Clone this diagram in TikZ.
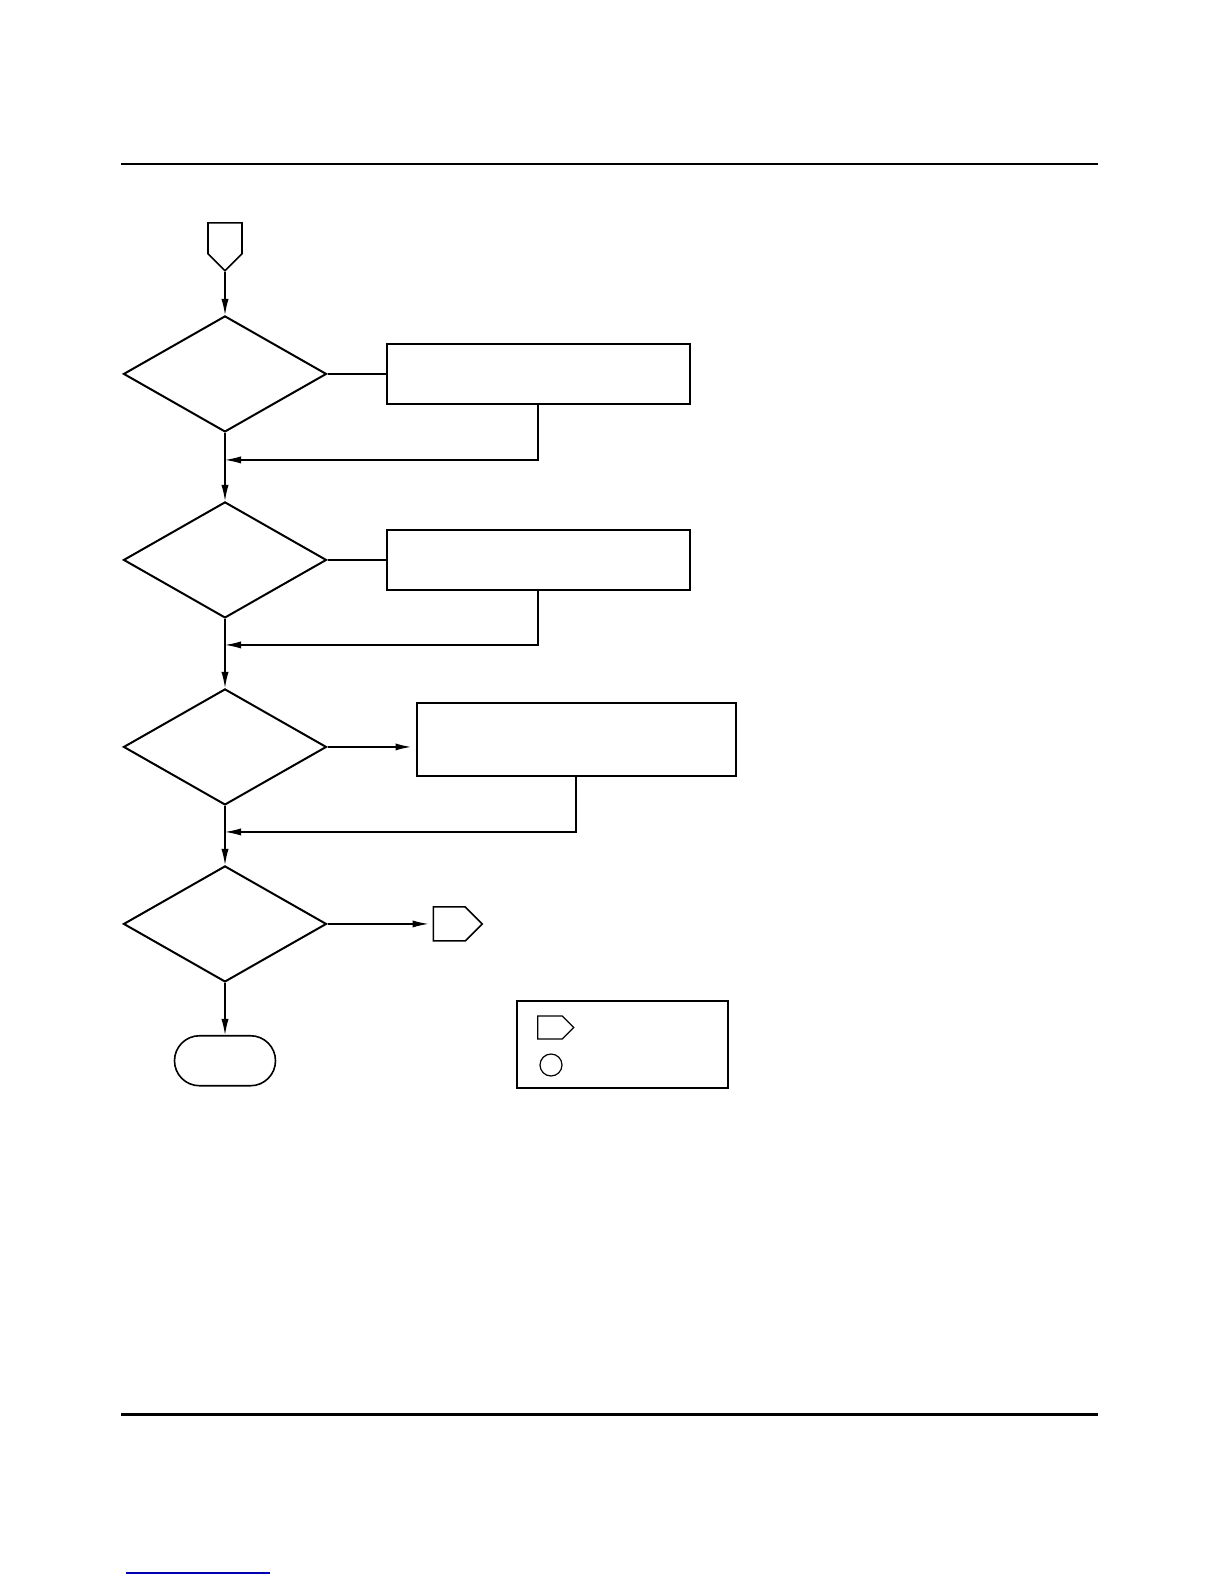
\documentclass[tikz,border=0pt]{standalone}
\usepackage{xcolor}
\usepackage{tikz}
\usetikzlibrary{arrows.meta,positioning,shapes.geometric,shapes.symbols}

\begin{document}
\begin{tikzpicture}[
    x=0.5pt, y=-0.5pt,
    >=Latex,
    node distance=35pt and 29pt,
    decision/.style={draw, diamond, line width=1pt, inner sep=0pt, minimum width=101.5pt, minimum height=58pt},
    block/.style={draw, rectangle, line width=1pt, inner sep=0pt, minimum width=151.5pt, minimum height=30pt},
    offpage/.style={draw, signal, line width=0.8pt, inner sep=0pt},
    terminal/.style={draw, rectangle, rounded corners=12.5pt, line width=0.8pt, inner sep=0pt, minimum width=50.5pt, minimum height=25pt},
    line/.style={-{Latex[length=8pt,width=3.6pt]}, line width=0.6pt},
    rule/.style={line width=1pt}
]
\useasboundingbox (0,0) rectangle (1224,1584);

% Page rules.
\draw[rule] (121,163.6) -- (1098,163.6);
\draw[rule, line width=1.5pt] (121,1414) -- (1098,1414);
\draw[blue!70!black, line width=0.6pt] (126,1573) -- (270,1573);

% Main decision chain.
\node[offpage, signal to=south, minimum width=17pt, minimum height=15.5pt, anchor=north] (start) at (225,222) {};
\node[decision, below=21.5pt of start] (dia1) {};
\node[block, right=29pt of dia1] (box1) {};
\node[decision, below=34pt of dia1] (dia2) {};
\node[block, right=29pt of dia2] (box2) {};
\node[decision, below=34.5pt of dia2] (dia3) {};
\node[block, minimum width=159.5pt, minimum height=36.5pt, right=44pt of dia3, yshift=3.5pt] (box3) {};
\node[decision, below=29.5pt of dia3] (dia4) {};
\node[offpage, signal to=east, minimum width=24.5pt, minimum height=17pt, right=52.5pt of dia4] (exit) {};
\node[terminal, below=26pt of dia4] (stop) {};

% Return points on the main line.
\coordinate[below=13.5pt of dia1.south] (j1);
\coordinate[below=13pt of dia2.south] (j2);
\coordinate[below=13pt of dia3.south] (j3);

% Legend.
\node[draw, line width=0.6pt, inner sep=0pt, minimum width=105.5pt, minimum height=43.5pt] (legend) at (622.5,1044.5) {};
\node[offpage, signal to=east, line width=0.6pt, minimum width=18pt, minimum height=11.5pt] (legsig) at (550,1027.5) {};
\node[draw, circle, line width=0.6pt, inner sep=0pt, minimum size=11pt] (legcirc) at (551,1065) {};

% Arrows.
\draw[line] (start) -- (dia1);
\draw[line width=0.6pt] (dia1) -- (box1);
\draw[line] (box1.south) |- (j1);
\draw[line] (dia1) -- (dia2);
\draw[line width=0.6pt] (dia2) -- (box2);
\draw[line] (box2.south) |- (j2);
\draw[line] (dia2) -- (dia3);
\draw[line, line width=0.9pt, shorten >=2pt] (dia3.east) -- (dia3.east -| box3.west);
\draw[line] (box3.south) |- (j3);
\draw[line] (dia3) -- (dia4);
\draw[line, shorten >=2pt] (dia4) -- (exit);
\draw[line] (dia4) -- (stop);

\end{tikzpicture}
\end{document}
